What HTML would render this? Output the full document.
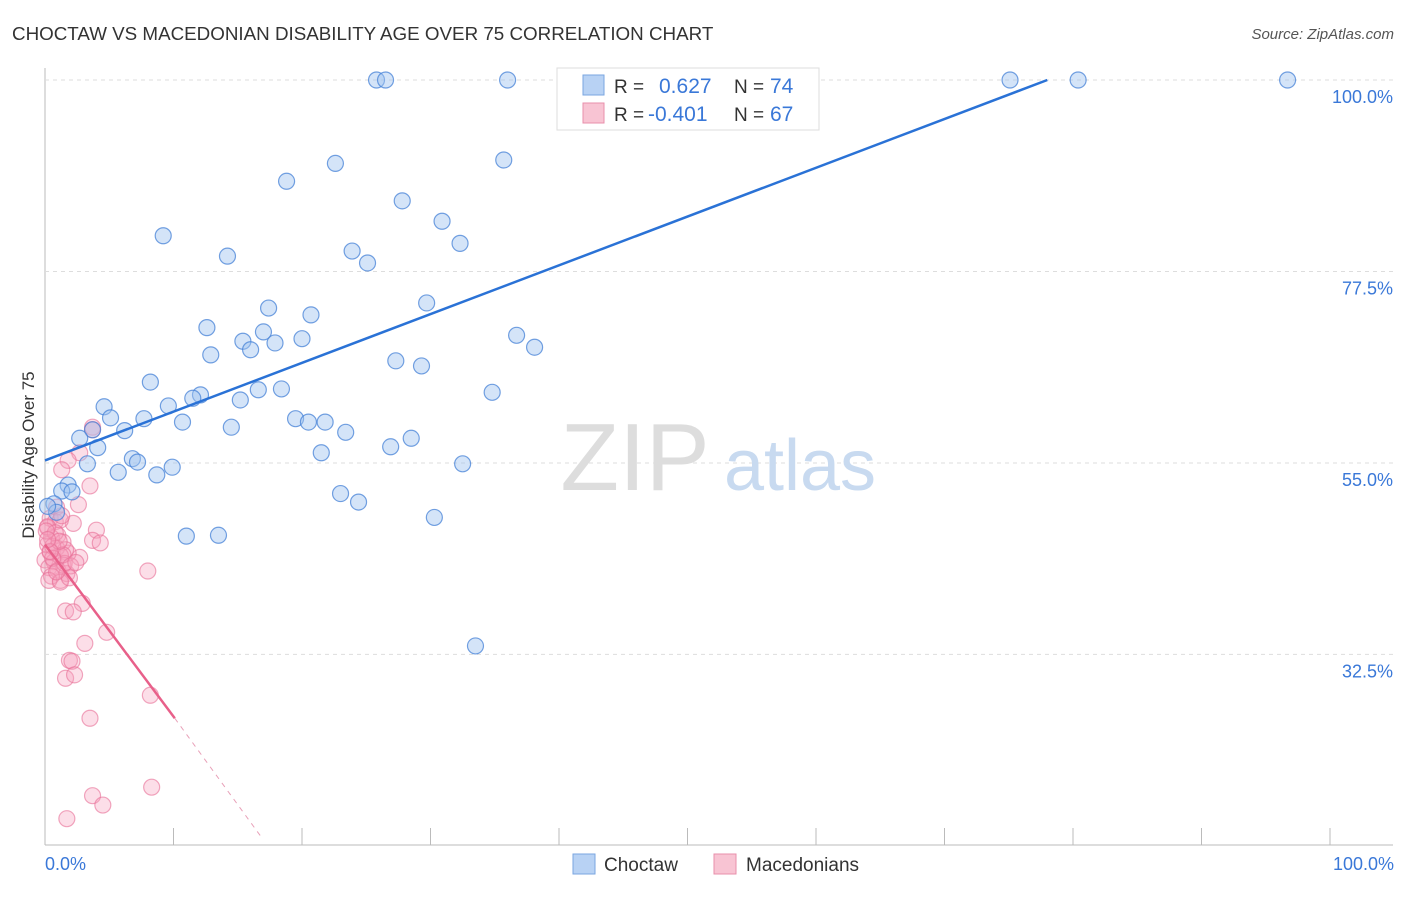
<!DOCTYPE html>
<html><head><meta charset="utf-8"><style>
body{margin:0;background:#fff;font-family:"Liberation Sans",sans-serif}
svg text{font-family:"Liberation Sans",sans-serif}
</style></head><body>
<svg width="1406" height="892">
<text x="12" y="40" font-size="18.8" fill="#333">CHOCTAW VS MACEDONIAN DISABILITY AGE OVER 75 CORRELATION CHART</text>
<text x="1394" y="39" font-size="15" fill="#555" text-anchor="end" font-style="italic">Source: ZipAtlas.com</text>
<g id="grid"></g>
<text x="635" y="490" font-size="96" fill="#ddd" font-family="Liberation Serif" text-anchor="middle">ZIP</text>
<text x="800" y="490" font-size="72" fill="#c8daf0" text-anchor="middle">atlas</text>
<g id="pts"></g><g id="lines"></g>
<text transform="translate(34,455) rotate(-90)" font-size="17" fill="#333" text-anchor="middle">Disability Age Over 75</text>
<text x="45" y="870" font-size="18" fill="#3a78d8">0.0%</text>
<text x="1394" y="870" font-size="18" fill="#3a78d8" text-anchor="end">100.0%</text>
<g>
<rect x="573" y="854" width="22" height="20" fill="#b8d2f4" stroke="#7aa6e0"/>
<text x="604" y="871" font-size="19" fill="#333">Choctaw</text>
<rect x="714" y="854" width="22" height="20" fill="#f8c4d3" stroke="#e88fab"/>
<text x="746" y="871" font-size="19" fill="#333">Macedonians</text>
</g>
<g>
<rect x="557" y="68" width="262" height="62" fill="#fff" stroke="#ddd"/>
<rect x="583" y="75" width="21" height="20" fill="#b8d2f4" stroke="#7aa6e0"/>
<rect x="583" y="103" width="21" height="20" fill="#f8c4d3" stroke="#e88fab"/>
<text x="614" y="93" font-size="19" fill="#333">R =</text><text x="659" y="93" font-size="21" fill="#3a78d8">0.627</text>
<text x="734" y="93" font-size="19" fill="#333">N =</text><text x="770" y="93" font-size="21" fill="#3a78d8">74</text>
<text x="614" y="121" font-size="19" fill="#333">R =</text><text x="648" y="121" font-size="21" fill="#3a78d8">-0.401</text>
<text x="734" y="121" font-size="19" fill="#333">N =</text><text x="770" y="121" font-size="21" fill="#3a78d8">67</text>
</g>
</svg>
<script>
const yTicks=[100,77.5,55,32.5];
const yTickLabels=["100.0%","77.5%","55.0%","32.5%"];
const xTicks=[0,10,20,30,40,50,60,70,80,90,100];
const blueX=[25.8,26.5,36.0,43.5,45.4,75.1,80.4,96.7,22.6,35.7,18.8,27.8,30.9,32.3,9.2,14.2,23.9,25.1,29.7,17.4,20.7,12.6,17.0,15.4,20.0,17.9,16.0,12.9,36.7,38.1,27.3,29.3,8.2,34.8,18.4,16.6,12.1,11.5,15.2,9.6,4.6,5.1,7.7,10.7,19.5,20.5,21.8,14.5,6.2,23.4,3.7,2.7,28.5,4.1,26.9,21.5,6.8,7.2,3.3,9.9,32.5,5.7,8.7,1.8,1.3,2.1,23.0,24.4,0.7,0.9,30.3,11.0,13.5,33.5,0.2];
const blueY=[100,100,100,100,100,100,100,100,90.2,90.6,88.1,85.8,83.4,80.8,81.7,79.3,79.9,78.5,73.8,73.2,72.4,70.9,70.4,69.3,69.6,69.1,68.3,67.7,70.0,68.6,67.0,66.4,64.5,63.3,63.7,63.6,63.0,62.6,62.4,61.7,61.6,60.3,60.2,59.8,60.2,59.8,59.8,59.2,58.8,58.6,58.9,57.9,57.9,56.8,56.9,56.2,55.5,55.1,54.9,54.5,54.9,53.9,53.6,52.4,51.7,51.6,51.4,50.4,50.2,49.2,48.6,46.4,46.5,33.5,49.9];
const pinkX=[3.7,3.7,2.7,1.8,1.3,3.5,2.6,0.9,2.2,4.0,3.7,4.3,2.7,1.8,8.0,1.2,2.9,1.6,2.2,4.8,3.1,1.9,2.1,1.6,2.3,8.2,3.5,8.3,3.7,4.5,1.7,0.4,0.8,0.2,1.0,0.5,1.4,0.2,0.9,1.6,0.4,1.2,0,0.7,1.4,0.3,1.0,1.7,0.5,1.2,0.2,0.6,1.5,0.3,1.2,0.8,1.4,2.0,0.1,0.6,1.1,1.9,0.4,0.9,1.3,0.2,2.4];
const pinkY=[59.2,58.9,56.2,55.3,54.2,52.3,50.1,49.8,47.9,47.1,45.9,45.6,43.9,44.4,42.3,41.2,38.5,37.6,37.5,35.1,33.8,31.8,31.7,29.7,30.1,27.7,25.0,16.9,15.9,14.8,13.2,48.5,48.1,47.4,46.5,46.2,45.7,45.4,45.0,44.8,44.5,44.1,43.6,43.4,43.0,42.7,42.4,42.0,41.7,48.3,47.5,45.2,43.2,41.2,41.0,46.8,44.2,42.9,47.0,43.8,45.8,41.5,44.6,42.2,48.8,46.0,43.3];
const blueLine=[[0,55.3],[78,100]];
const pinkLine=[[0,45.4],[10.1,25.0]];
const pinkDash=[[10.1,25.0],[16.9,10.9]];
const X=v=>45+v*12.85, Y=v=>80+(100-v)*8.51;
const NS="http://www.w3.org/2000/svg";
function mk(t,a,p){const e=document.createElementNS(NS,t);for(const k in a)e.setAttribute(k,a[k]);p.appendChild(e);return e;}
const g=document.getElementById('grid');
const ax=mk('line',{x1:45,y1:68,x2:45,y2:845,stroke:'#bbb'},g);


const bx=mk('line',{x1:45,y1:845,x2:1393,y2:845,stroke:'#bbb'},g);


yTicks.forEach((v,i)=>{
 const l=mk('line',{x1:45,y1:Y(v),x2:1393,y2:Y(v),stroke:'#ddd','stroke-dasharray':'4,4'},g);
 
 
 const t=mk('text',{x:1393,y:Y(v)+23,'font-size':18,fill:'#3a78d8','text-anchor':'end'},g);
 t.textContent=yTickLabels[i];
 
 
});
xTicks.forEach(v=>{
 const l=mk('line',{x1:X(v),y1:828,x2:X(v),y2:845,stroke:'#bbb'},g);
 
 
});
const p=document.getElementById('pts');
pinkX.forEach((v,i)=>{
 const c=mk('circle',{cx:X(v),cy:Y(pinkY[i]),r:8,fill:'rgba(246,160,188,0.35)',stroke:'rgba(232,110,150,0.6)','stroke-width':1.2},p);
 
 
});
blueX.forEach((v,i)=>{
 const c=mk('circle',{cx:X(v),cy:Y(blueY[i]),r:8,fill:'rgba(160,196,240,0.45)',stroke:'rgba(70,130,215,0.75)','stroke-width':1.2},p);
 
 
});
const L=document.getElementById('lines');
const b=mk('line',{x1:X(blueLine[0][0]),y1:Y(blueLine[0][1]),x2:X(blueLine[1][0]),y2:Y(blueLine[1][1]),stroke:'#2a72d6','stroke-width':2.5},L);


const pl=mk('line',{x1:X(pinkLine[0][0]),y1:Y(pinkLine[0][1]),x2:X(pinkLine[1][0]),y2:Y(pinkLine[1][1]),stroke:'#e8608a','stroke-width':2.5},L);


const pd=mk('line',{x1:X(pinkDash[0][0]),y1:Y(pinkDash[0][1]),x2:X(pinkDash[1][0]),y2:Y(pinkDash[1][1]),stroke:'#e8a0b8','stroke-width':1,'stroke-dasharray':'5,5'},L);


</script>
</body></html>
